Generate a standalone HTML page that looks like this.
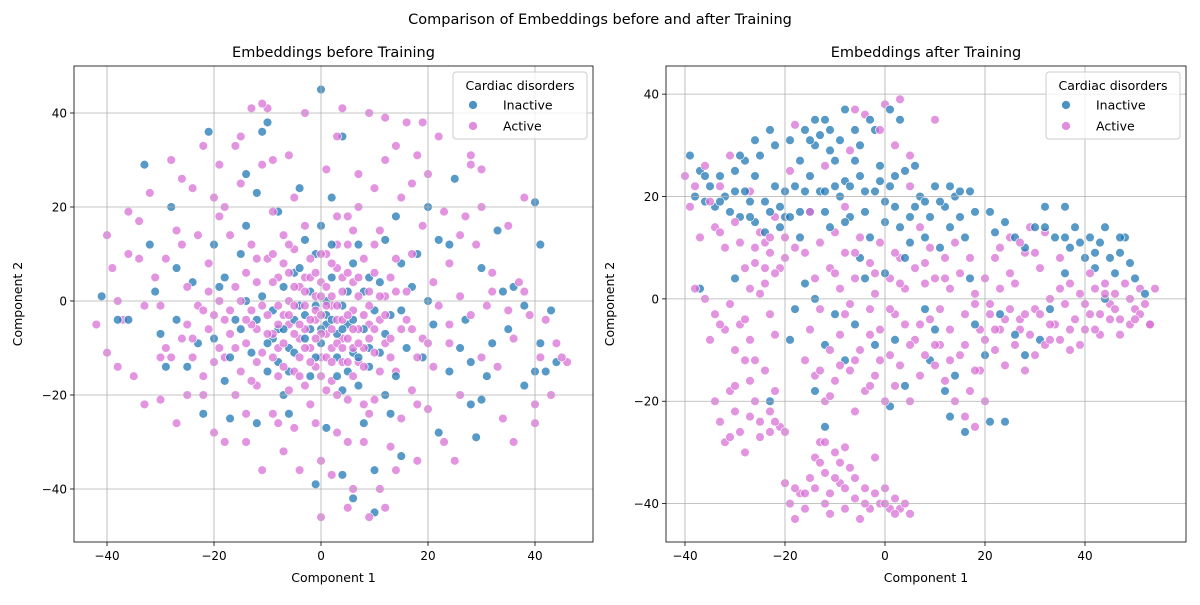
<!DOCTYPE html>
<html><head><meta charset="utf-8"><style>
body{margin:0;background:#fff;}
svg text{font-family:"DejaVu Sans","Liberation Sans",sans-serif;fill:#000;}
</style></head><body>
<svg id="fig" width="1200" height="600" xmlns="http://www.w3.org/2000/svg">
<rect width="1200" height="600" fill="#fff"/>
<text x="600" y="24" font-size="14.5" text-anchor="middle">Comparison of Embeddings before and after Training</text>
</svg>
<script>
const leftInactive=[[-41,1],[-33,29],[-32,12],[-30,-7],[-28,20],[-27,7],[-25,-14],[-23,-9],[-21,36],[-19,3],[-18,-17],[-17,-25],[-15,10],[-14,27],[-12,23],[-11,36],[-10,38],[-9,-8],[-8,19],[-7,-20],[-6,-15],[-5,6],[-4,24],[-3,-3],[-2,-6],[-1,10],[0,45],[1,-27],[2,22],[3,-12],[4,35],[5,-5],[6,8],[7,-18],[8,2],[9,-14],[10,-36],[11,4],[12,-7],[13,-24],[14,18],[15,-33],[16,-10],[18,10],[20,0],[22,-28],[24,-15],[25,26],[27,-4],[28,-22],[29,-29],[30,7],[32,-9],[33,15],[35,-6],[38,-18],[40,-15],[42,-15],[41,-9],[43,-2],[40,21],[41,12],[-36,-4],[-29,-14],[-22,-24],[-16,-4],[-13,-11],[-11,1],[-9,-2],[-7,3],[-6,-10],[-4,-1],[-2,2],[0,-9],[1,-3],[2,5],[3,-16],[4,-1],[5,2],[6,-11],[-14,16],[-20,-8],[-24,4],[8,-6],[10,-2],[12,13],[14,-16],[17,3],[19,-12],[21,-5],[6,-42],[10,-45],[4,-37],[-1,-39],[24,12],[30,-21],[-12,-26],[-27,-4],[44,-13],[38,-1],[36,3],[-3,13],[-8,-13],[0,16],[3,-7],[-5,-4],[7,12],[15,-2],[-18,5],[-10,-15],[22,13],[28,-13],[12,-20],[-31,2],[-38,-4],[1,-5],[-1,-1],[9,5],[-15,-6],[34,2],[-12,-4],[-8,-6],[-5,-11],[-3,-8],[-1,-12],[1,0],[2,-4],[4,-6],[6,-4],[7,-12],[9,-10],[-10,-9],[-7,-6],[-2,-16],[4,-19],[0,-6],[-4,7],[2,12],[11,-11],[-14,0],[-17,-12],[13,-3],[5,-15],[-6,-24],[8,-26],[15,8],[-20,12],[26,-10],[31,-16],[20,20]];
const leftActive=[[-42,-5],[-40,-11],[-40,14],[-39,7],[-37,-4],[-36,19],[-35,-16],[-34,17],[-33,-22],[-32,23],[-31,5],[-30,-1],[-29,9],[-28,-12],[-27,-26],[-26,26],[-25,-20],[-24,24],[-23,14],[-23,-1],[-22,33],[-21,-6],[-20,-28],[-19,29],[-18,-12],[-17,14],[-16,33],[-16,-20],[-15,25],[-14,-30],[-13,-2],[-12,-18],[-11,29],[-11,-36],[-10,41],[-9,19],[-9,-24],[-8,5],[-8,-10],[-7,-32],[-7,14],[-6,31],[-6,-5],[-5,-27],[-5,-15],[-4,-8],[-4,3],[-3,40],[-3,-18],[-2,-22],[-2,9],[-1,-4],[0,-12],[0,-34],[1,28],[1,-7],[2,-1],[2,-17],[3,12],[3,-28],[4,41],[4,-8],[5,18],[5,-21],[6,-2],[6,-40],[7,27],[7,-13],[8,-30],[8,9],[9,40],[9,-5],[10,-21],[10,24],[11,-40],[11,15],[12,-9],[12,39],[13,-31],[13,5],[14,33],[14,-15],[15,-25],[15,22],[16,-4],[16,38],[17,-19],[17,10],[18,31],[18,-34],[19,-8],[19,16],[20,27],[20,-23],[21,4],[21,-14],[22,35],[22,-1],[23,-30],[23,19],[24,-9],[24,8],[25,-34],[26,-20],[26,1],[27,18],[28,-3],[28,29],[29,12],[30,-12],[30,28],[31,-1],[32,6],[33,-14],[34,-25],[35,16],[36,-8],[36,-30],[37,4],[38,22],[39,-3],[40,-22],[41,-12],[42,-4],[43,-20],[44,-9],[46,-13],[45,-12],[-36,10],[-33,-1],[-29,-10],[-27,15],[-25,3],[-24,-8],[-22,-16],[-21,8],[-20,-3],[-19,-10],[-18,20],[-17,-7],[-16,3],[-15,-15],[-14,6],[-13,12],[-12,-6],[-12,4],[-11,-11],[-10,-3],[-10,9],[-9,-7],[-8,-16],[-7,-3],[-7,8],[-6,0],[-6,-19],[-5,11],[-4,-12],[-3,-6],[-3,5],[-2,-10],[-1,1],[-1,-14],[0,4],[0,-7],[1,-19],[1,10],[2,-10],[2,1],[3,-4],[3,7],[4,-13],[4,2],[5,-8],[5,12],[6,-16],[6,4],[7,-6],[7,1],[8,-10],[8,-22],[9,-1],[10,6],[10,-11],[11,-4],[12,1],[13,-12],[14,9],[15,-6],[16,2],[18,-12],[-28,30],[-19,18],[-14,-24],[-9,30],[-4,-36],[2,-37],[12,-44],[5,-44],[9,-46],[-15,35],[-13,41],[-11,42],[3,35],[7,20],[19,38],[28,31],[30,20],[38,2],[40,-26],[14,-36],[-30,-21],[-38,-14],[-26,-8],[0,-46],[-14,-9],[-13,-5],[-12,-13],[-11,-1],[-10,-7],[-9,-12],[-9,4],[-8,-1],[-8,-5],[-7,-9],[-7,-14],[-6,-3],[-6,6],[-5,-7],[-5,-1],[-5,3],[-4,-5],[-4,-16],[-3,-10],[-3,-1],[-3,2],[-2,-4],[-2,-13],[-2,5],[-1,-8],[-1,-2],[-1,6],[0,-3],[0,1],[0,-16],[1,-12],[1,-1],[1,3],[2,-6],[2,-13],[2,8],[3,-9],[3,-1],[3,-20],[4,-4],[4,5],[4,-10],[5,-13],[5,-3],[5,6],[6,-6],[6,-10],[7,-9],[7,5],[8,-3],[8,-14],[9,-8],[9,2],[10,-6],[11,-15],[11,1],[12,-3],[13,-8],[-16,-10],[-17,-2],[-18,-4],[-19,0],[-20,-13],[-21,2],[-15,0],[-14,-4],[-13,-17],[-12,9],[-9,10],[-6,12],[-3,16],[0,10],[3,18],[6,15],[10,12],[14,2],[17,-6],[-25,-5],[-22,-2],[-26,12],[-30,-12],[20,-9],[24,-5],[-8,-26],[-1,-26],[5,-30],[9,-24],[18,-22],[-18,-30],[-22,-20],[-34,9],[-38,0],[26,14],[32,2],[35,-2],[17,25],[12,30],[-5,22],[-20,22],[-24,-12]];
const rightInactive=[[-39,28],[-38,20],[-37,25],[-36,19],[-35,22],[-34,18],[-33,24],[-32,20],[-31,17],[-30,25],[-29,16],[-28,27],[-27,19],[-26,15],[-25,28],[-24,13],[-23,17],[-22,30],[-21,14],[-20,16],[-19,31],[-18,22],[-17,12],[-16,33],[-15,17],[-14,30],[-13,21],[-12,35],[-11,14],[-10,27],[-9,20],[-8,23],[-7,16],[-6,33],[-5,24],[-4,17],[-3,35],[-2,21],[-1,26],[0,19],[1,37],[2,24],[3,14],[4,25],[5,11],[6,18],[7,20],[8,12],[9,16],[10,22],[11,10],[12,18],[13,14],[14,20],[15,16],[16,12],[17,21],[18,17],[21,17],[22,13],[24,15],[26,12],[28,10],[30,14],[32,18],[34,12],[36,18],[37,10],[38,14],[40,8],[41,12],[42,6],[43,11],[44,14],[45,8],[46,5],[47,9],[48,12],[49,7],[50,4],[-37,2],[-30,4],[-19,-8],[-18,-2],[-16,3],[-14,0],[-12,-9],[-10,-3],[-8,-12],[-6,-5],[-4,4],[-2,-9],[2,-8],[4,-17],[8,-2],[10,-6],[12,-18],[14,-15],[18,-5],[20,-11],[21,-24],[23,-3],[26,-7],[28,-11],[31,-8],[33,-2],[16,-26],[-14,-18],[-23,-20],[1,-21],[-12,-25],[0,5],[4,8],[-26,24],[-11,33],[-8,37],[3,35],[-21,18],[-10,22],[6,26],[-15,24],[17,4],[36,5],[44,0],[52,1],[24,-24],[13,-23],[9,-12],[-5,8],[-28,21],[-36,24],[-33,19],[-30,21],[-27,16],[-24,19],[-22,22],[-20,21],[-17,27],[-15,31],[-13,32],[-11,29],[-9,31],[-7,22],[-5,30],[-4,21],[-2,33],[-1,23],[1,22],[2,18],[5,16],[8,19],[11,19],[13,22],[15,21],[-19,16],[-16,21],[-12,17],[-8,15],[-3,12],[0,15],[-26,31],[-29,28],[-23,33],[-14,35],[-6,27],[36,12],[39,11],[42,9],[47,12],[32,14],[-12,21],[-17,17]];
const rightActive=[[-40,24],[-39,18],[-37,12],[-36,26],[-34,14],[-33,22],[-31,28],[-29,11],[-27,21],[-26,7],[-25,13],[-24,3],[-23,9],[-22,16],[-21,6],[-20,12],[-19,25],[-18,34],[-16,9],[-14,4],[-13,11],[-12,26],[-11,6],[-10,13],[-9,2],[-8,9],[-7,29],[-6,4],[-5,12],[-4,36],[-3,7],[-2,1],[-1,11],[0,38],[1,4],[2,30],[3,8],[4,2],[5,28],[6,6],[7,14],[8,3],[9,10],[10,4],[11,-2],[12,8],[13,2],[14,11],[15,5],[16,-3],[17,8],[18,1],[19,-6],[20,4],[21,-1],[22,8],[23,2],[24,-4],[25,12],[26,3],[27,-6],[28,9],[29,14],[30,-2],[31,6],[32,13],[33,0],[34,-5],[35,8],[36,-1],[37,3],[38,-4],[39,1],[40,-6],[41,5],[42,2],[43,-3],[44,3],[45,-1],[46,1],[47,-4],[48,3],[49,0],[50,-2],[51,2],[52,-1],[53,-5],[54,2],[-38,2],[-36,0],[-34,-3],[-32,-6],[-30,-10],[-31,-1],[-29,-5],[-27,-8],[-25,1],[-23,-3],[-22,-7],[-34,-20],[-33,-24],[-32,-28],[-31,-18],[-30,-22],[-29,-26],[-28,-30],[-27,-16],[-26,-20],[-25,-24],[-24,-14],[-23,-26],[-22,-18],[-21,-25],[-20,-26],[-28,-12],[-26,-12],[-16,-12],[-15,-6],[-14,-15],[-13,-2],[-12,-20],[-11,-10],[-10,-16],[-9,-7],[-8,-3],[-7,-14],[-6,-22],[-5,-10],[-4,-18],[-3,-2],[-2,-15],[-1,-6],[0,-20],[1,-11],[2,-3],[3,-13],[4,-5],[5,-20],[6,-8],[7,-15],[8,-11],[9,-4],[10,-13],[11,-9],[12,-16],[13,-6],[14,-20],[15,-11],[16,-23],[17,-18],[18,-25],[19,-14],[20,-20],[20,-8],[21,-3],[22,-10],[23,-6],[24,-13],[25,-2],[26,-9],[27,-4],[28,-14],[29,-7],[30,-11],[31,-3],[32,-9],[33,-5],[35,-8],[37,-6],[39,-9],[41,-3],[43,-7],[45,-4],[47,-7],[49,-5],[51,-3],[53,-5],[-20,-36],[-19,-40],[-18,-43],[-17,-38],[-16,-41],[-15,-35],[-14,-31],[-13,-28],[-12,-34],[-11,-38],[-10,-30],[-9,-36],[-8,-41],[-7,-33],[-6,-39],[-5,-43],[-4,-37],[-3,-41],[-2,-31],[-1,-40],[0,-37],[1,-41],[2,-39],[3,-41],[4,-40],[5,-42],[-12,-28],[-8,-29],[-11,-42],[-33,13],[-15,17],[-8,18],[2,9],[5,22],[10,35],[-1,33],[-6,37],[3,39],[-38,22],[-35,19],[-32,10],[-30,15],[-28,6],[-26,10],[-24,11],[-22,5],[-20,8],[-18,10],[-24,6],[-27,2],[-23,12],[-35,-8],[-33,-5],[-28,-4],[-31,-27],[-27,-23],[-25,-27],[-22,-24],[-30,-17],[-23,-22],[-13,-14],[-11,-19],[-9,-13],[-6,-12],[-3,-17],[-1,-12],[2,-17],[5,-9],[7,-5],[10,-9],[13,-12],[16,-9],[18,-14],[-7,-1],[-3,-7],[1,-2],[-10,5],[-6,9],[-2,5],[3,3],[8,7],[12,4],[18,-1],[22,-6],[25,5],[28,-3],[33,-8],[37,-10],[42,-6],[46,-2],[50,-4],[30,9],[27,11],[23,10],[35,2],[40,-1],[44,1],[-14,-37],[-12,-40],[-10,-35],[-8,-37],[-6,-35],[-4,-40],[-2,-38],[0,-40],[2,-42],[-16,-38],[-18,-37],[-13,-32],[-9,-32]];
const leftXTicks=[-40,-20,0,20,40];
const leftYTicks=[-40,-20,0,20,40];
const rightXTicks=[-40,-20,0,20,40];
const rightYTicks=[-40,-20,0,20,40];
const legendLabels=["Inactive","Active"];

const NS="http://www.w3.org/2000/svg";
const svg=document.getElementById('fig');
function mk(tag,attrs,parent){const e=document.createElementNS(NS,tag);for(const k in attrs)e.setAttribute(k,attrs[k]);(parent||svg).appendChild(e);return e;}
const C_IN="#1f77b4",C_AC="#da70d6";

function panel(cfg){
  const {x0,x1,y0,y1,xmin,xmax,ymin,ymax,xt,yt,title,inact,act,key}=cfg;
  const sx=v=>x0+(v-xmin)/(xmax-xmin)*(x1-x0);
  const sy=v=>y1-(v-ymin)/(ymax-ymin)*(y1-y0);
  const g=mk('g',{});
  
  
  const pts=mk('g',{'fill-opacity':0.75,stroke:'#fff','stroke-width':0.7},g);
  const n=Math.max(inact.length,act.length);
  for(let i=0;i<n;i++){
    if(act[i]){const c=mk('circle',{cx:sx(act[i][0]),cy:sy(act[i][1]),r:4.4,fill:C_AC},pts);
      
      }
    if(inact[i]){const c=mk('circle',{cx:sx(inact[i][0]),cy:sy(inact[i][1]),r:4.4,fill:C_IN},pts);
      
      }
  }
  xt.forEach(t=>{
    const l=mk('line',{x1:sx(t),x2:sx(t),y1:y0,y2:y1,stroke:'#b0b0b0','stroke-width':0.8},g);
    
    
    mk('line',{x1:sx(t),x2:sx(t),y1:y1,y2:y1+4,stroke:'#000','stroke-width':0.8},g);
    const tx=mk('text',{x:sx(t),y:y1+18,'font-size':12,'text-anchor':'middle'},g);
    tx.textContent=(t<0?'\u2212'+(-t):t);
    
    
  });
  yt.forEach(t=>{
    const l=mk('line',{x1:x0,x2:x1,y1:sy(t),y2:sy(t),stroke:'#b0b0b0','stroke-width':0.8},g);
    
    
    mk('line',{x1:x0-4,x2:x0,y1:sy(t),y2:sy(t),stroke:'#000','stroke-width':0.8},g);
    const tx=mk('text',{x:x0-7,y:sy(t)+4.5,'font-size':12,'text-anchor':'end'},g);
    tx.textContent=(t<0?'\u2212'+(-t):t);
    
    
  });
  const fr=mk('rect',{x:x0,y:y0,width:x1-x0,height:y1-y0,fill:'none',stroke:'#000','stroke-width':0.8},g);
  
  
  const t=mk('text',{x:(x0+x1)/2,y:y0-9,'font-size':14.5,'text-anchor':'middle'},g);
  t.textContent=title;
  
  
  const xl=mk('text',{x:(x0+x1)/2,y:y1+40,'font-size':12.5,'text-anchor':'middle'},g);
  xl.textContent='Component 1';
  
  
  const yx=x0-52, yy=(y0+y1)/2;
  const yl=mk('text',{x:yx,y:yy,'font-size':12.5,'text-anchor':'middle',transform:`rotate(-90 ${yx} ${yy})`},g);
  yl.textContent='Component 2';
  
  
  const lx=x1-140, ly=y0+6;
  const lg=mk('g',{},g);
  
  
  mk('rect',{x:lx,y:ly,width:134,height:67,rx:3,fill:'#fff','fill-opacity':0.8,stroke:'#ccc'},lg);
  const lt=mk('text',{x:lx+67,y:ly+18,'font-size':12.5,'text-anchor':'middle'},lg);
  lt.textContent='Cardiac disorders';
  [C_IN,C_AC].forEach((c,i)=>{
    const e=mk('g',{},lg);
    
    
    mk('circle',{cx:lx+20,cy:ly+33+i*21,r:4.5,fill:c,'fill-opacity':0.8,stroke:'#fff','stroke-width':0.7},e);
    const tt=mk('text',{x:lx+50,y:ly+37.5+i*21,'font-size':12.5},e);
    tt.textContent=legendLabels[i];
  });
}
panel({key:'before',x0:74,x1:593,y0:66,y1:542,xmin:-46.17,xmax:50.84,ymin:-51.28,ymax:50,xt:leftXTicks,yt:leftYTicks,title:'Embeddings before Training',inact:leftInactive,act:leftActive});
panel({key:'after',x0:666,x1:1186,y0:66,y1:542,xmin:-43.8,xmax:60.2,ymin:-47.5,ymax:45.5,xt:rightXTicks,yt:rightYTicks,title:'Embeddings after Training',inact:rightInactive,act:rightActive});
</script>
</body></html>
